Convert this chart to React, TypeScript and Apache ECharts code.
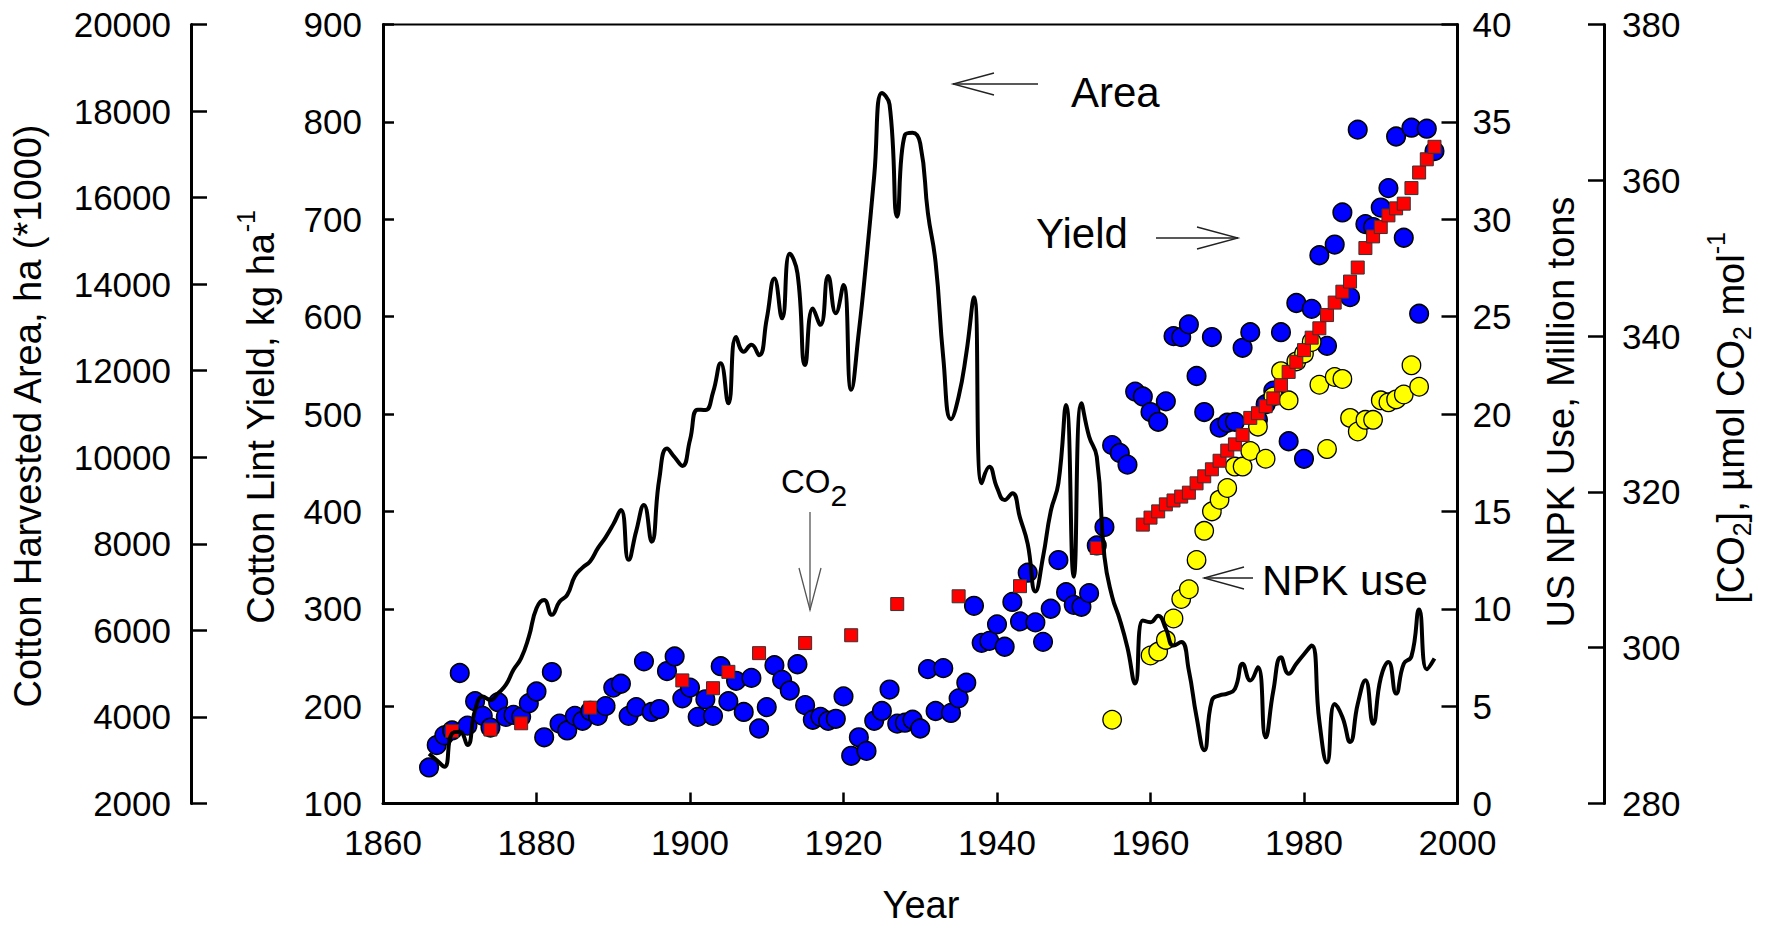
import React, { useEffect, useRef } from "react";
import * as echarts from "echarts";

const FONT = '"Liberation Sans", Arial, Helvetica, sans-serif';

// Cotton lint yield (kg/ha), one value per year starting 1866
const YIELD_START = 1866;
const yieldKgHa = [
  137, 160, 170, 175, 234, 180, 205, 190, 178, 204,
  189, 191, 189, 203, 215, 168, 235, 182, 175, 190,
  185, 195, 190, 200, 219, 223, 190, 199, 246, 194,
  197, 236, 251, 208, 219, 189, 207, 190, 241, 205,
  226, 194, 229, 177, 199, 242, 227, 216, 243, 201,
  186, 189, 185, 187, 210, 149, 168, 154, 185, 195,
  217, 182, 183, 186, 177, 238, 195, 239, 193, 208,
  224, 303, 265, 267, 284, 261, 307, 287, 337, 286,
  266, 300, 350, 317, 304, 302, 316, 365, 384, 468,
  460, 448, 523, 518, 502, 492, 513, 580, 579, 592,
  539, 502, 579, 486, 491, 492, 568, 584, 494, 510,
  524, 584, 472, 614, 454, 608, 663, 570, 674, 707,
  620, 792, 695, 692, 712, 732, 785, 681, 794, 603,
  793, 770,
];

// Cotton harvested area (ha * 1000), one value per year starting 1866
const AREA_START = 1866;
const areaKha = [
  3150, 3000, 2850, 3620, 3660, 3350, 4160, 4470, 4390, 4550,
  4740, 5090, 5360, 5850, 6510, 6700, 6360, 6660, 6820, 7250,
  7450, 7600, 7900, 8150, 8450, 8780, 7630, 8300, 8900, 8050,
  9500, 10200, 10000, 9800, 10400, 11100, 11090, 11500, 12170, 11250,
  12780, 12440, 12600, 12360, 13200, 14130, 13210, 14700, 14250, 12130,
  13440, 13060, 14190, 13330, 13980, 11560, 12900, 14600, 16500, 18420,
  18150, 15560, 17450, 17500, 17250, 15640, 14500, 12300, 10880, 11400,
  12400, 13700, 9400, 9780, 9300, 9010, 9170, 8600, 8000, 6900,
  7700, 8750, 9400, 11210, 7240, 11250, 10480, 10010, 7700, 6780,
  6250, 5600, 4770, 6230, 6190, 6340, 6040, 5650, 5730, 5070,
  4000, 3230, 4380, 4500, 4540, 4650, 5230, 4840, 5150, 3530,
  4600, 5380, 5000, 5230, 5450, 5650, 3900, 2950, 4300, 4000,
  3420, 4300, 4850, 3840, 4900, 5270, 4540, 5230, 5400, 6480,
  5100, 5350,
];

// Atmospheric CO2 (umol/mol)
const co2Years = [
  1869, 1874, 1878, 1887, 1899, 1903, 1905, 1909, 1915, 1921, 1927, 1935, 1943, 1953,
  1959, 1960, 1961, 1962, 1963, 1964, 1965, 1966, 1967, 1968,
  1969, 1970, 1971, 1972, 1973, 1974, 1975, 1976, 1977, 1978,
  1979, 1980, 1981, 1982, 1983, 1984, 1985, 1986, 1987, 1988,
  1989, 1990, 1991, 1992, 1993, 1994, 1995, 1996, 1997,
];
const co2Ppm = [
  289.3, 289.5, 290.3, 292.3, 295.8, 294.8, 296.9, 299.3, 300.6, 301.6, 305.6, 306.6, 307.9, 312.8,
  315.8, 316.7, 317.5, 318.4, 318.9, 319.4, 319.9, 321.1, 322.0, 322.9,
  324.0, 325.3, 326.1, 327.3, 329.5, 330.1, 331.0, 332.0, 333.7, 335.4,
  336.7, 338.2, 339.8, 341.0, 342.7, 344.3, 345.7, 347.0, 348.8, 351.3,
  352.8, 354.0, 355.5, 356.4, 357.0, 359.0, 361.0, 362.7, 364.3,
];

// US NPK fertilizer use (million tons)
const npkYears = [
  1955, 1960, 1961, 1962, 1963, 1964, 1965, 1966, 1967, 1968, 1969,
  1970, 1971, 1972, 1973, 1974, 1975, 1976, 1977, 1978, 1979,
  1980, 1981, 1982, 1983, 1984, 1985, 1986, 1987, 1988, 1989,
  1990, 1991, 1992, 1993, 1994, 1995,
];
const npkMt = [
  4.3, 7.6, 7.8, 8.4, 9.5, 10.5, 11.0, 12.5, 14.0, 15.0, 15.6,
  16.2, 17.3, 17.3, 18.1, 19.35, 17.7, 20.9, 22.2, 20.7, 22.7,
  23.1, 23.7, 21.5, 18.2, 21.9, 21.8, 19.8, 19.1, 19.7, 19.7,
  20.7, 20.6, 20.75, 21.0, 22.5, 21.4,
];

type Piece = { t: string; s: number; dy?: number };

let measureCtx: CanvasRenderingContext2D | null = null;
function measure(text: string, size: number): number {
  if (!measureCtx) measureCtx = document.createElement("canvas").getContext("2d");
  if (!measureCtx) return text.length * size * 0.55;
  measureCtx.font = `${size}px ${FONT}`;
  return measureCtx.measureText(text).width;
}

function textRun(pieces: Piece[], x: number, y: number, rotation: number, anchor: "center" | "left") {
  const widths = pieces.map((p) => measure(p.t, p.s));
  const total = widths.reduce((a, b) => a + b, 0);
  let cur = anchor === "center" ? -total / 2 : 0;
  const children = pieces.map((p, i) => {
    const el = {
      type: "text",
      x: cur,
      y: p.dy || 0,
      style: {
        text: p.t,
        fontSize: p.s,
        fontFamily: FONT,
        fill: "#000",
        align: "left",
        verticalAlign: "middle",
      },
    };
    cur += widths[i];
    return el;
  });
  return { type: "group", x, y, rotation, children, silent: true };
}

function arrow(tip: [number, number], tail: [number, number], headLen: number, headHalf: number, color: string) {
  const dx = tail[0] - tip[0];
  const dy = tail[1] - tip[1];
  const len = Math.sqrt(dx * dx + dy * dy);
  const ux = dx / len;
  const uy = dy / len;
  const bx = tip[0] + ux * headLen;
  const by = tip[1] + uy * headLen;
  const px = -uy * headHalf;
  const py = ux * headHalf;
  return [
    {
      type: "line",
      shape: { x1: tip[0], y1: tip[1], x2: tail[0], y2: tail[1] },
      style: { stroke: color, lineWidth: 1.3 },
      silent: true,
    },
    {
      type: "polyline",
      shape: { points: [[bx + px, by + py], tip, [bx - px, by - py]] },
      style: { stroke: color, lineWidth: 1.3, fill: null },
      silent: true,
    },
  ];
}

const plain = (v: number) => String(v);

const App: React.FC = () => {
  const ref = useRef<HTMLDivElement>(null);

  useEffect(() => {
    if (!ref.current) return;
    const chart = echarts.init(ref.current, undefined, { renderer: "svg" });

    const yieldData = yieldKgHa.map((v, i) => [YIELD_START + i, v]);
    const areaData = areaKha.map((v, i) => [AREA_START + i, v]);
    const co2Data = co2Years.map((y, i) => [y, co2Ppm[i]]);
    const npkData = npkYears.map((y, i) => [y, npkMt[i]]);

    const labelStyle = { fontSize: 35, color: "#000", fontFamily: FONT, formatter: plain };
    const axisLine = { show: true, onZero: false, lineStyle: { color: "#000", width: 3 } };

    const graphic: any[] = [
      textRun([{ t: "Cotton Harvested Area, ha (*1000)", s: 38 }], 28, 415, Math.PI / 2, "center"),
      textRun(
        [
          { t: "Cotton Lint Yield, kg ha", s: 38 },
          { t: "-1", s: 25, dy: -15 },
        ],
        261,
        417,
        Math.PI / 2,
        "center"
      ),
      textRun([{ t: "US NPK Use, Million tons", s: 38 }], 1561, 412, Math.PI / 2, "center"),
      textRun(
        [
          { t: "[CO", s: 38 },
          { t: "2", s: 25, dy: 11 },
          { t: "], \u00b5mol CO", s: 38 },
          { t: "2", s: 25, dy: 11 },
          { t: " mol", s: 38 },
          { t: "-1", s: 25, dy: -15 },
        ],
        1731,
        418,
        Math.PI / 2,
        "center"
      ),
      textRun([{ t: "Year", s: 38 }], 921, 905, 0, "center"),
      textRun([{ t: "Area", s: 42 }], 1071, 92, 0, "left"),
      textRun([{ t: "Yield", s: 42 }], 1036, 233, 0, "left"),
      textRun([{ t: "NPK use", s: 42 }], 1262, 580, 0, "left"),
      textRun(
        [
          { t: "CO", s: 33 },
          { t: "2", s: 30, dy: 14 },
        ],
        781,
        481,
        0,
        "left"
      ),
      ...arrow([953, 84], [1038, 84], 41, 11, "#222"),
      ...arrow([1238, 238], [1156, 238], 41, 11, "#222"),
      ...arrow([1204, 578], [1253, 578], 40, 11, "#222"),
      ...arrow([810, 610], [810, 512], 42, 11, "#555"),
    ];

    const tick = (len: number) => ({ show: true, inside: true, length: len, lineStyle: { color: "#000", width: 2.5 } });

    const option: any = {
      animation: false,
      backgroundColor: "#ffffff",
      grid: {
        left: 383,
        top: 24.5,
        width: 1074.5,
        height: 779,
        show: true,
        borderColor: "#000",
        borderWidth: 2,
        backgroundColor: "transparent",
      },
      xAxis: {
        type: "value",
        min: 1860,
        max: 2000,
        interval: 20,
        axisLine,
        axisTick: tick(11),
        axisLabel: { ...labelStyle, margin: 21, showMinLabel: true, showMaxLabel: true },
        splitLine: { show: false },
      },
      yAxis: [
        {
          type: "value",
          position: "left",
          offset: 0,
          min: 100,
          max: 900,
          interval: 100,
          axisLine,
          axisTick: tick(11),
          axisLabel: { ...labelStyle, margin: 21, showMinLabel: true, showMaxLabel: true },
          splitLine: { show: false },
        },
        {
          type: "value",
          position: "left",
          offset: 192,
          min: 2000,
          max: 20000,
          interval: 2000,
          axisLine,
          axisTick: tick(16),
          axisLabel: { ...labelStyle, margin: 20, showMinLabel: true, showMaxLabel: true },
          splitLine: { show: false },
        },
        {
          type: "value",
          position: "right",
          offset: 0,
          min: 0,
          max: 40,
          interval: 5,
          axisLine,
          axisTick: tick(16),
          axisLabel: { ...labelStyle, margin: 15, showMinLabel: true, showMaxLabel: true },
          splitLine: { show: false },
        },
        {
          type: "value",
          position: "right",
          offset: 146.5,
          min: 280,
          max: 380,
          interval: 20,
          axisLine,
          axisTick: tick(16),
          axisLabel: { ...labelStyle, margin: 18, showMinLabel: true, showMaxLabel: true },
          splitLine: { show: false },
        },
      ],
      series: [
        {
          name: "Yield",
          type: "scatter",
          yAxisIndex: 0,
          data: yieldData,
          symbol: "circle",
          symbolSize: 18.5,
          itemStyle: { color: "#0000ff", borderColor: "#000", borderWidth: 1.6, opacity: 1 },
          z: 2,
          silent: true,
        },
        {
          name: "NPK use",
          type: "scatter",
          yAxisIndex: 2,
          data: npkData,
          symbol: "circle",
          symbolSize: 18.5,
          itemStyle: { color: "#ffff00", borderColor: "#000", borderWidth: 1.3, opacity: 1 },
          z: 3,
          silent: true,
        },
        {
          name: "CO2",
          type: "scatter",
          yAxisIndex: 3,
          data: co2Data,
          symbol: "rect",
          symbolSize: 13,
          itemStyle: { color: "#ff0000", borderColor: "#333", borderWidth: 1, opacity: 1 },
          z: 4,
          silent: true,
        },
        {
          name: "Area",
          type: "line",
          yAxisIndex: 1,
          data: areaData,
          smooth: 0.5,
          symbol: "none",
          showSymbol: false,
          lineStyle: { color: "#000", width: 4 },
          z: 5,
          silent: true,
        },
      ],
      graphic,
    };

    chart.setOption(option);
    return () => {
      chart.dispose();
    };
  }, []);

  return (
    <div
      ref={ref}
      style={{ position: "fixed", left: 0, top: 0, width: 1773, height: 925, background: "#fff" }}
    />
  );
};

export default App;
